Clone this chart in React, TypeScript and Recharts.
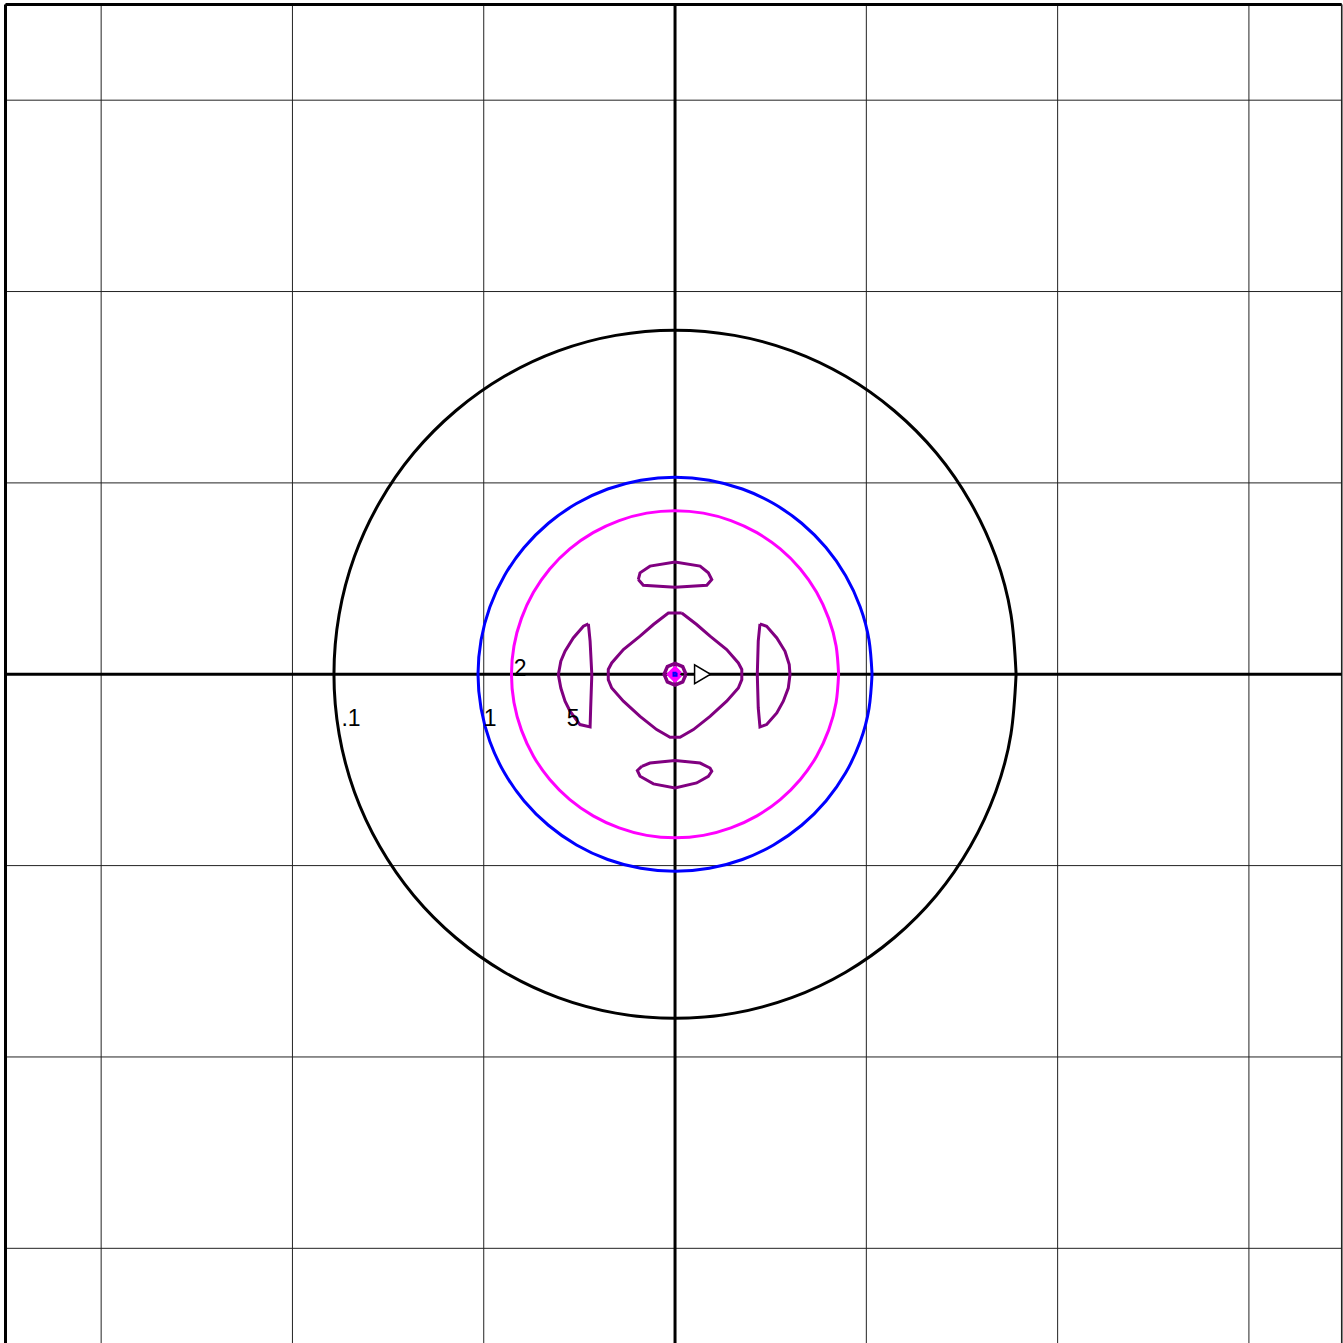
import { ScatterChart, Scatter, XAxis, YAxis, CartesianGrid, ReferenceLine } from 'recharts';

// contour lines, one grid cell = 1 unit, centre of the pattern at (0, 0)
const contour01 = [
  { x: 1.783, y: 0 }, { x: 1.756, y: 0.312 }, { x: 1.676, y: 0.615 }, { x: 1.544, y: 0.899 },
  { x: 1.366, y: 1.156 }, { x: 1.146, y: 1.377 }, { x: 0.892, y: 1.557 }, { x: 0.61, y: 1.69 },
  { x: 0.31, y: 1.771 }, { x: 0, y: 1.798 }, { x: -0.31, y: 1.771 }, { x: -0.61, y: 1.69 },
  { x: -0.892, y: 1.557 }, { x: -1.146, y: 1.377 }, { x: -1.366, y: 1.156 }, { x: -1.544, y: 0.899 },
  { x: -1.676, y: 0.615 }, { x: -1.756, y: 0.312 }, { x: -1.783, y: 0 }, { x: -1.756, y: -0.312 },
  { x: -1.676, y: -0.615 }, { x: -1.544, y: -0.899 }, { x: -1.366, y: -1.156 }, { x: -1.146, y: -1.377 },
  { x: -0.892, y: -1.557 }, { x: -0.61, y: -1.69 }, { x: -0.31, y: -1.771 }, { x: 0, y: -1.798 },
  { x: 0.31, y: -1.771 }, { x: 0.61, y: -1.69 }, { x: 0.892, y: -1.557 }, { x: 1.146, y: -1.377 },
  { x: 1.366, y: -1.156 }, { x: 1.544, y: -0.899 }, { x: 1.676, y: -0.615 }, { x: 1.756, y: -0.312 },
  { x: 1.783, y: 0 },
];

const contour1 = [
  { x: 1.03, y: 0 }, { x: 1.014, y: 0.179 }, { x: 0.968, y: 0.352 }, { x: 0.892, y: 0.515 },
  { x: 0.789, y: 0.662 }, { x: 0.662, y: 0.789 }, { x: 0.515, y: 0.892 }, { x: 0.352, y: 0.968 },
  { x: 0.179, y: 1.014 }, { x: 0, y: 1.03 }, { x: -0.179, y: 1.014 }, { x: -0.352, y: 0.968 },
  { x: -0.515, y: 0.892 }, { x: -0.662, y: 0.789 }, { x: -0.789, y: 0.662 }, { x: -0.892, y: 0.515 },
  { x: -0.968, y: 0.352 }, { x: -1.014, y: 0.179 }, { x: -1.03, y: 0 }, { x: -1.014, y: -0.179 },
  { x: -0.968, y: -0.352 }, { x: -0.892, y: -0.515 }, { x: -0.789, y: -0.662 }, { x: -0.662, y: -0.789 },
  { x: -0.515, y: -0.892 }, { x: -0.352, y: -0.968 }, { x: -0.179, y: -1.014 }, { x: 0, y: -1.03 },
  { x: 0.179, y: -1.014 }, { x: 0.352, y: -0.968 }, { x: 0.515, y: -0.892 }, { x: 0.662, y: -0.789 },
  { x: 0.789, y: -0.662 }, { x: 0.892, y: -0.515 }, { x: 0.968, y: -0.352 }, { x: 1.014, y: -0.179 },
  { x: 1.03, y: 0 },
];

const contour2 = [
  { x: 0.855, y: 0 }, { x: 0.842, y: 0.148 }, { x: 0.803, y: 0.292 }, { x: 0.74, y: 0.428 },
  { x: 0.655, y: 0.55 }, { x: 0.55, y: 0.655 }, { x: 0.428, y: 0.74 }, { x: 0.292, y: 0.803 },
  { x: 0.148, y: 0.842 }, { x: 0, y: 0.855 }, { x: -0.148, y: 0.842 }, { x: -0.292, y: 0.803 },
  { x: -0.428, y: 0.74 }, { x: -0.55, y: 0.655 }, { x: -0.655, y: 0.55 }, { x: -0.74, y: 0.428 },
  { x: -0.803, y: 0.292 }, { x: -0.842, y: 0.148 }, { x: -0.855, y: 0 }, { x: -0.842, y: -0.148 },
  { x: -0.803, y: -0.292 }, { x: -0.74, y: -0.428 }, { x: -0.655, y: -0.55 }, { x: -0.55, y: -0.655 },
  { x: -0.428, y: -0.74 }, { x: -0.292, y: -0.803 }, { x: -0.148, y: -0.842 }, { x: 0, y: -0.855 },
  { x: 0.148, y: -0.842 }, { x: 0.292, y: -0.803 }, { x: 0.428, y: -0.74 }, { x: 0.55, y: -0.655 },
  { x: 0.655, y: -0.55 }, { x: 0.74, y: -0.428 }, { x: 0.803, y: -0.292 }, { x: 0.842, y: -0.148 },
  { x: 0.855, y: 0 },
];

const contour5Centre = [
  { x: 0.035, y: 0.32 }, { x: 0.113, y: 0.26 }, { x: 0.183, y: 0.199 }, { x: 0.27, y: 0.129 },
  { x: 0.331, y: 0.059 }, { x: 0.349, y: 0.025 }, { x: 0.349, y: -0.028 }, { x: 0.331, y: -0.072 },
  { x: 0.27, y: -0.141 }, { x: 0.183, y: -0.22 }, { x: 0.096, y: -0.289 }, { x: 0.026, y: -0.329 },
  { x: -0.026, y: -0.329 }, { x: -0.096, y: -0.289 }, { x: -0.183, y: -0.22 }, { x: -0.27, y: -0.141 },
  { x: -0.331, y: -0.072 }, { x: -0.349, y: -0.028 }, { x: -0.349, y: 0.025 }, { x: -0.331, y: 0.059 },
  { x: -0.27, y: 0.129 }, { x: -0.183, y: 0.199 }, { x: -0.113, y: 0.26 }, { x: -0.035, y: 0.32 },
  { x: 0.035, y: 0.32 },
];

const contour5Top = [
  { x: -0.192, y: 0.495 }, { x: -0.183, y: 0.53 }, { x: -0.131, y: 0.565 }, { x: 0, y: 0.587 },
  { x: 0.131, y: 0.565 }, { x: 0.174, y: 0.53 }, { x: 0.192, y: 0.495 }, { x: 0.166, y: 0.465 },
  { x: 0, y: 0.455 }, { x: -0.166, y: 0.465 }, { x: -0.192, y: 0.495 },
];

const contour5Bottom = [
  { x: -0.174, y: -0.481 }, { x: -0.131, y: -0.464 }, { x: 0, y: -0.451 }, { x: 0.131, y: -0.464 },
  { x: 0.183, y: -0.49 }, { x: 0.192, y: -0.507 }, { x: 0.174, y: -0.533 }, { x: 0.113, y: -0.568 },
  { x: 0, y: -0.594 }, { x: -0.113, y: -0.573 }, { x: -0.183, y: -0.533 }, { x: -0.197, y: -0.503 },
  { x: -0.174, y: -0.481 },
];

const contour5Left = [
  { x: -0.453, y: 0.263 }, { x: -0.479, y: 0.251 }, { x: -0.532, y: 0.19 }, { x: -0.575, y: 0.12 },
  { x: -0.597, y: 0.068 }, { x: -0.61, y: -0.002 }, { x: -0.597, y: -0.072 }, { x: -0.575, y: -0.141 },
  { x: -0.549, y: -0.193 }, { x: -0.497, y: -0.263 }, { x: -0.444, y: -0.275 }, { x: -0.441, y: -0.176 },
  { x: -0.435, y: -0.002 }, { x: -0.444, y: 0.173 }, { x: -0.453, y: 0.263 },
];

const contour5Right = [
  { x: 0.444, y: 0.263 }, { x: 0.479, y: 0.251 }, { x: 0.532, y: 0.19 }, { x: 0.575, y: 0.12 },
  { x: 0.597, y: 0.051 }, { x: 0.601, y: -0.002 }, { x: 0.592, y: -0.072 }, { x: 0.566, y: -0.141 },
  { x: 0.532, y: -0.202 }, { x: 0.479, y: -0.263 }, { x: 0.444, y: -0.275 }, { x: 0.435, y: -0.176 },
  { x: 0.43, y: -0.002 }, { x: 0.435, y: 0.173 }, { x: 0.444, y: 0.263 },
];

const contour5Ring = [
  { x: 0.057, y: 0 }, { x: 0.04, y: 0.04 }, { x: 0, y: 0.057 }, { x: -0.04, y: 0.04 },
  { x: -0.057, y: 0 }, { x: -0.04, y: -0.04 }, { x: 0, y: -0.057 }, { x: 0.04, y: -0.04 },
  { x: 0.057, y: 0 },
];

const peakMagenta = [
  { x: 0.025, y: 0 }, { x: 0, y: 0.025 }, { x: -0.025, y: 0 }, { x: 0, y: -0.025 }, { x: 0.025, y: 0 },
];

const peakBlue = [
  { x: 0.008, y: 0.008 }, { x: -0.008, y: 0.008 }, { x: -0.008, y: -0.008 }, { x: 0.008, y: -0.008 },
  { x: 0.008, y: 0.008 },
];

const sourceMarker = [{ x: 0.144, y: 0 }];

const contourLabels = [
  { x: -1.694, y: -0.272, t: '.1' },
  { x: -0.967, y: -0.272, t: '1' },
  { x: -0.81, y: -0.01, t: '2' },
  { x: -0.533, y: -0.272, t: '5' },
];

const gridTicks = [-3, -2, -1, 0, 1, 2, 3];

const noDot = () => <g />;

const triangle = (p: any) => (
  <polygon
    points={`${p.cx - 8},${p.cy - 9.5} ${p.cx - 8},${p.cy + 9.5} ${p.cx + 8},${p.cy}`}
    fill="#fff"
    stroke="#000"
    strokeWidth={1.5}
  />
);

const labelText = (p: any) => (
  <text
    x={p.cx}
    y={p.cy}
    textAnchor="middle"
    style={{ fontSize: 23, fontFamily: "'Liberation Sans', Arial, sans-serif" }}
    fill="#000"
  >
    {p.payload.t}
  </text>
);

export default function App() {
  const lines = [
    { d: contour01, c: '#000000', w: 3, smooth: true },
    { d: contour1, c: '#0000ff', w: 3, smooth: true },
    { d: contour2, c: '#ff00ff', w: 3, smooth: true },
    { d: contour5Centre, c: '#800080', w: 3 },
    { d: contour5Top, c: '#800080', w: 3 },
    { d: contour5Bottom, c: '#800080', w: 3 },
    { d: contour5Left, c: '#800080', w: 3 },
    { d: contour5Right, c: '#800080', w: 3 },
    { d: contour5Ring, c: '#800080', w: 3.5 },
    { d: peakMagenta, c: '#ff00ff', w: 6 },
    { d: peakBlue, c: '#0000ff', w: 2 },
  ];

  return (
    <div style={{ position: 'absolute', left: 0, top: 0, width: 1343, height: 1343, overflow: 'hidden', background: '#fff' }}>
      <ScatterChart width={1343} height={1344} margin={{ top: 4.5, right: 1.3, bottom: 0, left: 5.5 }}>
        <CartesianGrid stroke="#222" strokeWidth={1} />
        <XAxis dataKey="x" type="number" domain={[-3.5, 3.485]} ticks={gridTicks} hide allowDataOverflow />
        <YAxis dataKey="y" type="number" domain={[-3.5, 3.5]} ticks={gridTicks} hide allowDataOverflow />
        <ReferenceLine x={-3.5} stroke="#000" strokeWidth={3} />
        <ReferenceLine y={3.5} stroke="#000" strokeWidth={3} />
        <ReferenceLine x={3.485} stroke="#222" strokeWidth={1.5} />
        <ReferenceLine x={0} stroke="#000" strokeWidth={3} />
        <ReferenceLine y={0} stroke="#000" strokeWidth={3} />
        {lines.map((l, i) => (
          <Scatter
            key={i}
            data={l.d}
            stroke={l.c}
            strokeWidth={l.w}
            line={{ stroke: l.c, strokeWidth: l.w, fill: 'none' }}
            lineJointType={l.smooth ? 'natural' : 'linear'}
            shape={noDot}
            isAnimationActive={false}
          />
        ))}
        <Scatter data={sourceMarker} shape={triangle} isAnimationActive={false} />
        <Scatter data={contourLabels} shape={labelText} isAnimationActive={false} />
      </ScatterChart>
    </div>
  );
}
